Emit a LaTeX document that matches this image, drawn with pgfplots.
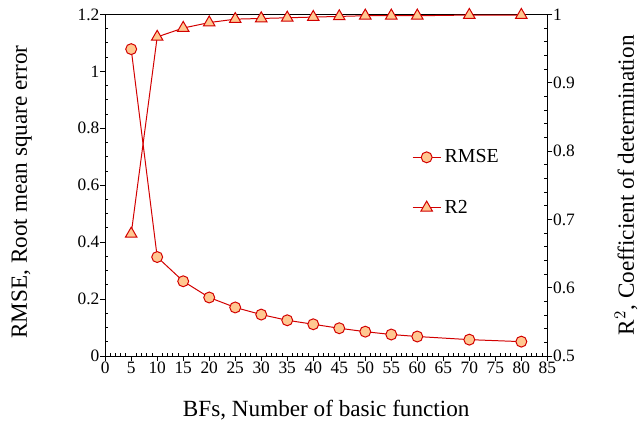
\documentclass[border=0pt]{standalone}
\usepackage{fontspec}
\setmainfont{Liberation Serif}
\usepackage{pgfplots}
\pgfplotsset{compat=1.18}
\definecolor{mfill}{RGB}{255,200,145}
\definecolor{mline}{RGB}{210,0,0}
\newcommand{\tickfont}{\fontsize{10.5}{12}\selectfont}
\newcommand{\labfont}{\fontsize{14}{16}\selectfont}
\pgfplotsset{
  common/.style={
    scale only axis, width=267pt, height=206.4pt,
    xmin=0, xmax=85,
    tick align=inside, major tick length=3pt, minor tick length=1.8pt,
    /pgf/number format/assume math mode=true,
    xticklabel style={font=\tickfont},
    yticklabel style={font=\tickfont},
    tick style={black, line width=0.6pt},
    axis line style={line width=0.6pt},
  },
  rmsestyle/.style={mline, line width=0.6pt, mark=*, mark size=3.3pt,
    mark options={fill=mfill, draw=mline, line width=0.6pt}},
  r2style/.style={mline, line width=0.6pt, mark=triangle*, mark size=4pt,
    mark options={fill=mfill, draw=mline, line width=0.6pt}},
}
\begin{document}
\begin{tikzpicture}
\begin{axis}[common,
  ymin=0, ymax=1.2,
  xtick={0,5,10,15,20,25,30,35,40,45,50,55,60,65,70,75,80,85},
  ytick={0,0.2,0.4,0.6,0.8,1,1.2},
  minor x tick num=4, minor y tick num=3,
  xtick pos=bottom, ytick pos=left,
  every major x tick/.append style={yshift=-3pt},
  every major y tick/.append style={xshift=-3pt},
  xlabel={BFs, Number of basic function},
  ylabel={RMSE, Root mean square error},
  every axis x label/.style={at={(axis description cs:0.5,-0.157)}, anchor=center, font=\labfont},
  every axis y label/.style={at={(axis description cs:-0.189,0.48)}, rotate=90, anchor=center, font=\labfont},
]
\addplot[rmsestyle] coordinates {
(5,1.078) (10,0.348) (15,0.263) (20,0.206) (25,0.171) (30,0.146) (35,0.126)
(40,0.112) (45,0.098) (50,0.086) (55,0.076) (60,0.069) (70,0.058) (80,0.051)};
\end{axis}
\begin{axis}[common,
  ymin=0.5, ymax=1,
  axis x line=none, axis y line*=right,
  ytick={0.5,0.6,0.7,0.8,0.9,1},
  minor y tick num=4,
  every major y tick/.append style={xshift=3pt},
  ylabel={R$^2$, Coefficient of determination},
  every axis y label/.style={at={(axis description cs:1.178,0.5)}, rotate=90, anchor=center, font=\labfont},
  legend style={draw=none, fill=none, at={(axis description cs:0.682,0.625)}, anchor=north west,
    row sep=17pt, font=\fontsize{12}{14}\selectfont},
  legend cell align=left,
]
\addlegendimage{rmsestyle}
\addlegendentry{RMSE}
\addplot[r2style] coordinates {
(5,0.679) (10,0.967) (15,0.980) (20,0.988) (25,0.993) (30,0.994) (35,0.995)
(40,0.996) (45,0.997) (50,0.998) (55,0.998) (60,0.998) (70,0.999) (80,0.999)};
\addlegendentry{R2}
\end{axis}
\path (current bounding box.north west) ++(-3.6pt,1.8pt) coordinate (bbx);
\path (bbx) -- (current bounding box.south east);
\end{tikzpicture}
\end{document}
